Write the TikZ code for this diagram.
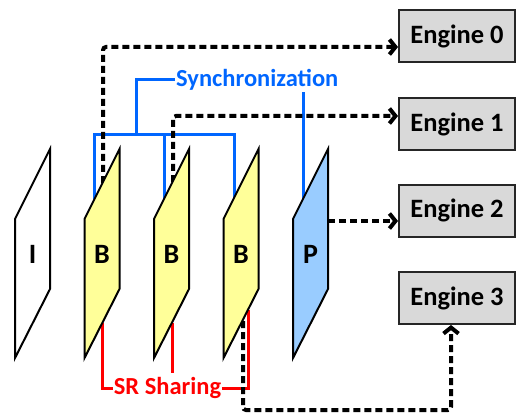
\documentclass[tikz,border=0pt]{standalone}
\usepackage{fontspec}
\setmainfont{Carlito}
\usetikzlibrary{arrows.meta}
\definecolor{frmyellow}{RGB}{255,255,153}
\definecolor{frmblue}{RGB}{153,204,255}
\definecolor{syncblue}{RGB}{0,102,255}
\definecolor{enggray}{RGB}{217,217,217}
\tikzset{
  engine/.style={draw=black!85, line width=2pt, fill=enggray, minimum width=116pt,
    minimum height=52pt, anchor=west, font=\fontsize{26.5}{30}\selectfont\bfseries},
  frm/.style={draw, line width=2pt, line join=miter},
  lbl/.style={font=\fontsize{24.5}{30}\selectfont\bfseries},
  dsh/.style={line width=4pt, dash pattern=on 7pt off 4pt, rounded corners=3pt,
    -{Straight Barb[length=6pt,width=15pt]}},
  syn/.style={syncblue, line width=3pt},
  srs/.style={red, line width=3pt},
}
\begin{document}
\begin{tikzpicture}[x=1pt,y=-1pt]
  \useasboundingbox (0,0) rectangle (516,414);
  % engines
  \node[engine] (e0) at (398,36) {Engine 0};
  \node[engine] (e1) at (398,124) {Engine 1};
  \node[engine] (e2) at (398,210.5) {Engine 2};
  \node[engine] (e3) at (398,298) {Engine 3};
  \node[lbl, text=syncblue, anchor=west, inner sep=1pt] (sync) at (175,80) {Synchronization};
  \node[lbl, text=red, inner sep=1pt] (share) at (167.5,388) {SR Sharing};
  % points on the frames
  \coordinate (s1) at (94,199);
  \coordinate (s2) at (164,199);
  \coordinate (s3) at (234,199);
  \coordinate (s4) at (303,199);
  \coordinate (r1) at (102,323);
  \coordinate (r2) at (172,323);
  \coordinate (r3) at (248,310);
  \coordinate (d0) at (103,183);
  \coordinate (d1) at (173,182);
  \coordinate (d2) at (328,221);
  \coordinate (d3) at (243,321);
  % synchronization
  \draw[syn] (sync.west) -- (136,80) -- (136,135);
  \draw[syn] (s1) -- (94,135) -- (234,135) -- (s3);
  \draw[syn] (s2) -- (164,135);
  \draw[syn] (s4) -- (s4 |- sync.south);
  % SR sharing
  \draw[srs] (share.west) -- (102,388) -- (r1);
  \draw[srs] (r2) -- (172,373);
  \draw[srs] (share.east) -- (248,388) -- (r3);
  % to the engines
  \draw[dsh] (d0) -- (103,47) -- ([yshift=-11pt]e0.west);
  \draw[dsh] (d1) -- (173,116) -- ([yshift=8pt]e1.west);
  \draw[dsh] (d2) -- ([yshift=-10.5pt]e2.west);
  \draw[dsh] (d3) -- (243,410) -- (451,410) -- ([xshift=-6pt]e3.south);
  % frames
  \foreach \x/\c/\t/\n in {15/white/I/fI, 84.5/frmyellow/B/fB1, 154/frmyellow/B/fB2,
      223.5/frmyellow/B/fB3, 293/frmblue/P/fP} {
    \draw[frm, fill=\c] (\x,219) -- (\x+35,149) -- (\x+35,289) -- (\x,358) -- cycle;
    \node[lbl, font=\fontsize{28}{30}\selectfont\bfseries] (\n) at (\x+17.5,254) {\t};
  }
\end{tikzpicture}
\end{document}
